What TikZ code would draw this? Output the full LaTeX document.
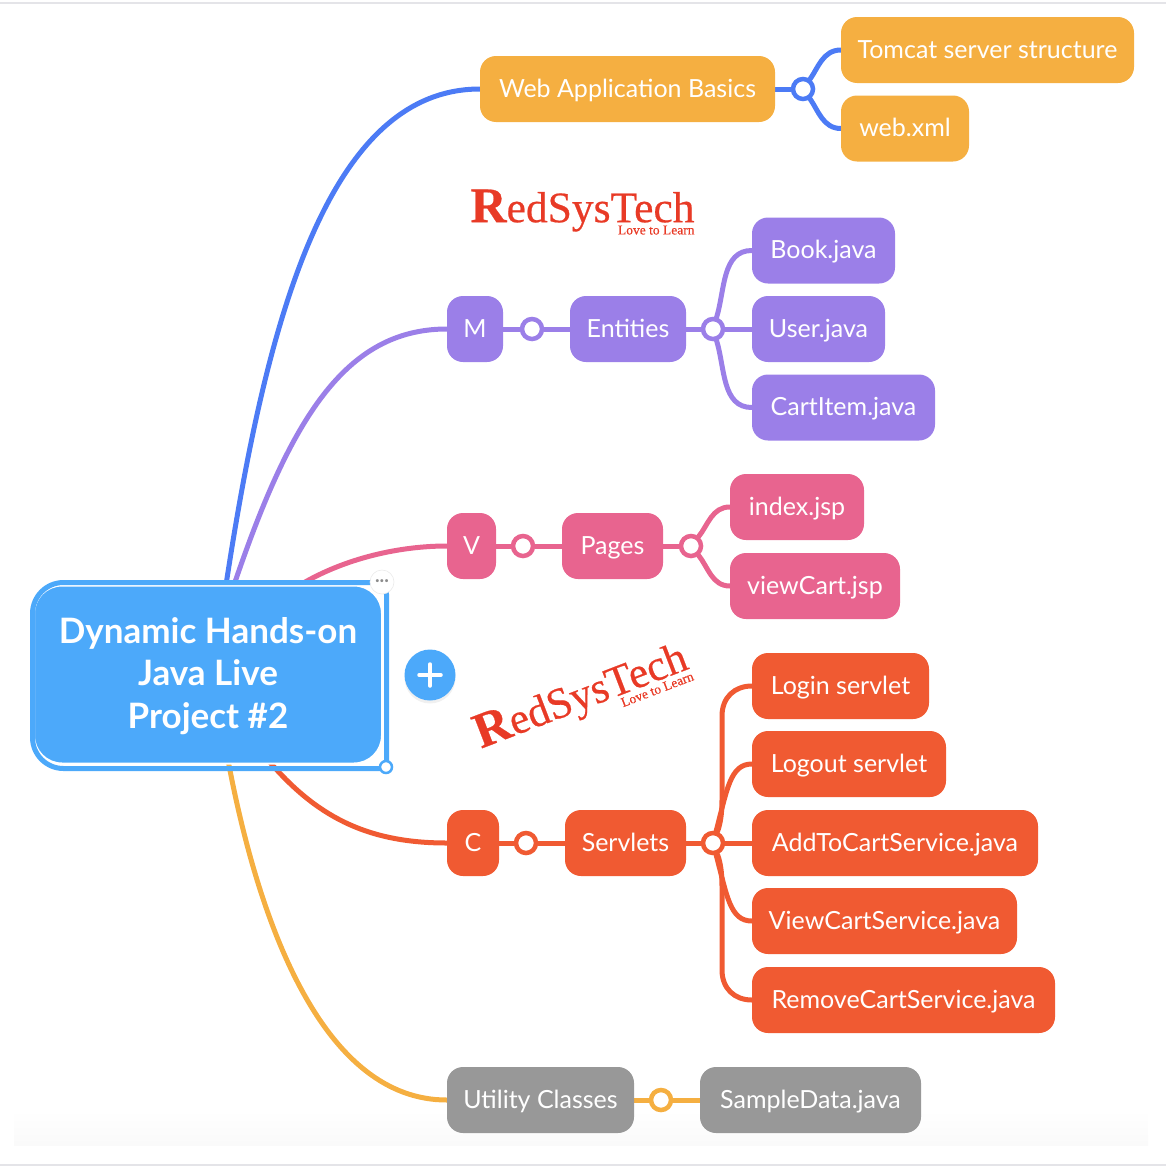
\documentclass[tikz,border=0pt]{standalone}
\usepackage{fontspec}
\setmainfont{Lato}
\newfontfamily\logofont[FakeBold=0.5]{Liberation Serif}
\usetikzlibrary{backgrounds,positioning,calc,shadows}
\definecolor{cBlue}{HTML}{4C7BF5}
\definecolor{cPurple}{HTML}{9B7FE8}
\definecolor{cPink}{HTML}{E8648F}
\definecolor{cRed}{HTML}{F05A32}
\definecolor{cOrange}{HTML}{F5AF41}
\definecolor{cGray}{HTML}{989898}
\definecolor{cMain}{HTML}{4CA9FA}
\definecolor{cLogo}{HTML}{E83A26}
\definecolor{cRule}{HTML}{E4E4E8}
\tikzset{
  x=1pt,y=-1pt,
  topic/.style={rounded corners=16pt,inner sep=0pt,minimum height=66pt,text height=23pt,text depth=7pt,text=white,font=\fontsize{25}{30}\selectfont},
  orangebox/.style={topic,fill=cOrange},
  purplebox/.style={topic,fill=cPurple},
  pinkbox/.style={topic,fill=cPink},
  redbox/.style={topic,fill=cRed},
  graybox/.style={topic,fill=cGray},
  link/.style={line width=5pt,line cap=round},
  hub/.style={circle,draw,fill=white,line width=4.5pt,minimum size=20pt,inner sep=0pt},
  logotext/.style={text=cLogo,align=right,inner sep=0pt,font=\logofont},
}
\newcommand{\boxat}[6]{\node[#1,minimum width=#5pt] (#2) at (#3,#4) {#6};}
\newcommand{\logoword}{{\fontsize{50}{50}\bfseries\selectfont R}{\fontsize{43.5}{43.5}\selectfont edSysTech}\\[-7pt]{\fontsize{13.5}{14}\selectfont Love to Learn\hspace{2pt}}}
\begin{document}
\begin{tikzpicture}
\useasboundingbox (0,0) rectangle (1166,1170);
\fill[cRule] (0,2) rectangle (1166,4);
\fill[cRule] (0,1164) rectangle (1166,1166);
\shade[top color=white,bottom color=black!2] (14,1110) rectangle (1148,1145);

% main topic
\node[rounded corners=28pt,fill=cMain,draw=white,line width=2pt,minimum width=348pt,minimum height=178pt,inner sep=0pt] (main) at (208,674.5) {};
\draw[cMain,line width=5pt,line cap=round] (main.south east) ++(3.5,4) [rounded corners=12pt] -- ++(0,-186) [rounded corners=31pt] -- ++(-354,0) -- ++(0,186) -- ++(354,0);
\node[text=white,align=center,font=\fontsize{35}{42.5}\bfseries\selectfont,inner sep=0pt] (title) at (208,676) {Dynamic Hands-on\\Java Live\\Project \#2};
\node[circle,fill=white,draw=black!8,line width=.6pt,minimum size=24pt,inner sep=0pt,text=black!45,font=\fontsize{8}{8}\selectfont] (more) at (382,582) {•••};
\node[circle,fill=white,draw=cMain,line width=2.5pt,minimum size=12pt,inner sep=0pt] (handle) at (386,767) {};
\node[circle,fill=cMain,minimum size=51pt,inner sep=0pt,drop shadow={opacity=.12,shadow xshift=0pt,shadow yshift=-3pt}] (plus) at (430,675) {};
\draw[white,line width=3.5pt,line cap=round] (plus.center) ++(-11,0) -- ++(22,0) (plus.center) ++(0,-11) -- ++(0,22);

% topics
\boxat{orangebox}{web}{627.5}{89}{295}{Web Application Basics}
\boxat{orangebox}{tomcat}{987.5}{50}{293}{Tomcat server structure}
\boxat{orangebox}{xml}{905}{128.5}{128}{web.xml}
\boxat{purplebox}{m}{475}{329}{56}{M}
\boxat{purplebox}{ent}{628}{329}{116}{Entities}
\boxat{purplebox}{book}{823.5}{250.5}{143}{Book.java}
\boxat{purplebox}{user}{818.5}{329}{133}{User.java}
\boxat{purplebox}{cart}{843.5}{407.5}{183}{CartItem.java}
\boxat{pinkbox}{v}{471.5}{546}{49}{V}
\boxat{pinkbox}{pages}{612.5}{546}{101}{Pages}
\boxat{pinkbox}{index}{797}{507}{134}{index.jsp}
\boxat{pinkbox}{view}{815}{586}{170}{viewCart.jsp}
\boxat{redbox}{c}{473}{843}{52}{C}
\boxat{redbox}{serv}{625.5}{843}{121}{Servlets}
\boxat{redbox}{login}{840.5}{686}{177}{Login servlet}
\boxat{redbox}{logout}{849}{764}{194}{Logout servlet}
\boxat{redbox}{add}{895}{843}{286}{AddToCartService.java}
\boxat{redbox}{vcs}{884.5}{921}{265}{ViewCartService.java}
\boxat{redbox}{rcs}{903.5}{1000}{303}{RemoveCartService.java}
\boxat{graybox}{util}{540.5}{1100}{187}{Utility Classes}
\boxat{graybox}{sample}{810.5}{1100}{221}{SampleData.java}

% hubs
\node[hub,draw=cBlue] (h1) at (803,89) {};
\node[hub,draw=cPurple] (h2) at (532,329) {};
\node[hub,draw=cPurple] (h3) at (713,329) {};
\node[hub,draw=cPink] (h4) at (523,546) {};
\node[hub,draw=cPink] (h5) at (691,546) {};
\node[hub,draw=cRed] (h6) at (526,843) {};
\node[hub,draw=cRed] (h7) at (713,843) {};
\node[hub,draw=cOrange] (h8) at (661,1100) {};

% logos
\node[logotext] (logoA) at (582.5,212) {\logoword};
\node[logotext,rotate=21] (logoB) at (582,699) {\logoword};

% connectors
\begin{scope}[on background layer]
\coordinate (mA) at (226,585);
\coordinate (mB) at (234,585);
\coordinate (mC) at (300,585);
\coordinate (mD) at (268,760);
\coordinate (mE) at (228,760);
\draw[link,cBlue] (mA) .. controls (265,330) and (325,89) .. (web.west);
\draw[link,cPurple] (mB) .. controls (290,420) and (345,329) .. (m.west);
\draw[link,cPink] (mC) .. controls (345,558) and (400,546) .. (v.west);
\draw[link,cRed] (mD) .. controls (315,815) and (365,843) .. (c.west);
\draw[link,cOrange] (mE) .. controls (260,930) and (325,1100) .. (util.west);

\draw[link,cBlue] (web.east) -- (h1);
\draw[link,cBlue] (h1) .. controls (818,68) and (823,50) .. (tomcat.west);
\draw[link,cBlue] (h1) .. controls (818,110) and (823,128.5) .. (xml.west);

\draw[link,cPurple] (m.east) -- (h2) (h2) -- (ent.west) (ent.east) -- (h3) (h3) -- (user.west);
\draw[link,cPurple] (h3) .. controls (725,290) and (722,250.5) .. (book.west);
\draw[link,cPurple] (h3) .. controls (725,368) and (722,407.5) .. (cart.west);

\draw[link,cPink] (v.east) -- (h4) (h4) -- (pages.west) (pages.east) -- (h5);
\draw[link,cPink] (h5) .. controls (708,525) and (712,507) .. (index.west);
\draw[link,cPink] (h5) .. controls (708,567) and (712,586) .. (view.west);

\draw[link,cRed] (c.east) -- (h6) (h6) -- (serv.west) (serv.east) -- (h7) (h7) -- (add.west);
\draw[link,cRed] (h7) .. controls (720,825) and (722,815) .. (722,800) -- (722,716) .. controls (722,697) and (735,686) .. (login.west);
\draw[link,cRed] (h7) .. controls (727,790) and (730,764) .. (logout.west);
\draw[link,cRed] (h7) .. controls (727,896) and (730,921) .. (vcs.west);
\draw[link,cRed] (h7) .. controls (720,861) and (722,871) .. (722,886) -- (722,970) .. controls (722,989) and (735,1000) .. (rcs.west);

\draw[link,cOrange] (util.east) -- (h8) (h8) -- (sample.west);
\end{scope}
\end{tikzpicture}
\end{document}
